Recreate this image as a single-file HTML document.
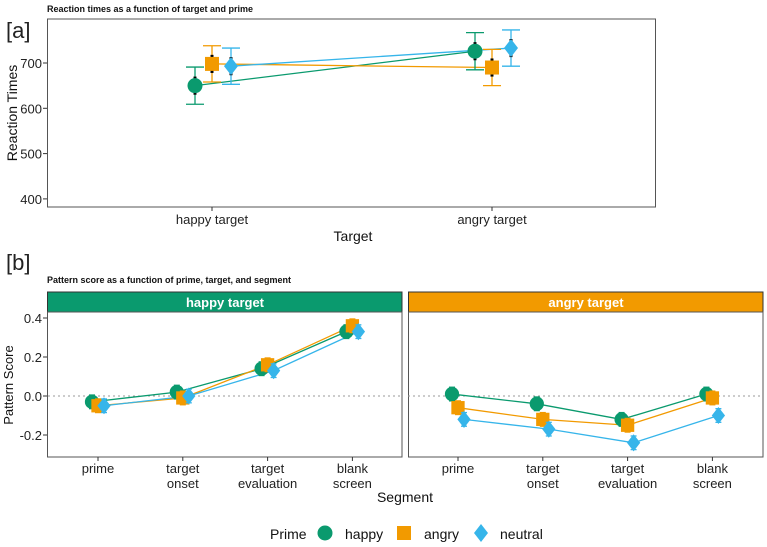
<!DOCTYPE html>
<html><head><meta charset="utf-8"><style>
body{margin:0;background:#fff;font-family:"Liberation Sans",sans-serif;}
svg text{font-family:"Liberation Sans",sans-serif;}
</style></head><body>
<svg id="s" width="767" height="542" xmlns="http://www.w3.org/2000/svg">
<text x="6" y="38" font-size="22" font-weight="300" fill="#222">[a]</text>
<text x="47" y="12" font-size="9" font-weight="bold" fill="#111">Reaction times as a function of target and prime</text>
<rect x="47.5" y="19" width="608" height="188" fill="none" stroke="#555"/>
<text transform="translate(17,113) rotate(-90)" text-anchor="middle" font-size="14" fill="#111">Reaction Times</text>
<text x="353" y="241" text-anchor="middle" font-size="14" fill="#111">Target</text>
<g id="ga"></g>
<text x="6" y="270" font-size="22" font-weight="300" fill="#222">[b]</text>
<text x="47" y="283" font-size="9" font-weight="bold" fill="#111">Pattern score as a function of prime, target, and segment</text>
<rect x="47.5" y="292" width="354.5" height="20" fill="#0A9A6E" stroke="#333"/>
<text x="225" y="307" text-anchor="middle" font-size="13" font-weight="bold" fill="#fff">happy target</text>
<rect x="408.5" y="292" width="354.5" height="20" fill="#F29A00" stroke="#333"/>
<text x="586" y="307" text-anchor="middle" font-size="13" font-weight="bold" fill="#fff">angry target</text>
<rect x="47.5" y="312" width="354.5" height="145" fill="none" stroke="#555"/>
<rect x="408.5" y="312" width="354.5" height="145" fill="none" stroke="#555"/>
<text transform="translate(13,385) rotate(-90)" text-anchor="middle" font-size="13" fill="#111">Pattern Score</text>
<text x="405" y="502" text-anchor="middle" font-size="14" fill="#111">Segment</text>
<g id="gb"></g>
<g>
<text x="270" y="539" font-size="14" fill="#111">Prime</text>
<circle cx="325" cy="533" r="7.5" fill="#0A9A6E"/>
<text x="345" y="539" font-size="14" fill="#111">happy</text>
<rect x="397" y="526" width="14" height="14" fill="#F29A00"/>
<text x="424" y="539" font-size="14" fill="#111">angry</text>
<path d="M481 524 L488 533 L481 542 L474 533Z" fill="#36B5EA"/>
<text x="500" y="539" font-size="14" fill="#111">neutral</text>
</g>
</svg>
<script>
// Panel a data
const targets = ["happy target","angry target"];
const primes = ["happy","angry","neutral"];
const rtHappy = [650, 726];
const rtAngry = [698, 690];
const rtNeutral = [693, 733];
const rtErr = [41, 40, 40];
const rtTicks = [400, 500, 600, 700];
// Panel b data
const segments = ["prime","target onset","target evaluation","blank screen"];
const segLabels = [["prime"],["target","onset"],["target","evaluation"],["blank","screen"]];
const psHappyTarget_happy = [-0.03, 0.02, 0.14, 0.33];
const psHappyTarget_angry = [-0.05, -0.01, 0.16, 0.36];
const psHappyTarget_neutral = [-0.05, 0.00, 0.13, 0.33];
const psAngryTarget_happy = [0.01, -0.04, -0.12, 0.01];
const psAngryTarget_angry = [-0.06, -0.12, -0.15, -0.01];
const psAngryTarget_neutral = [-0.12, -0.17, -0.24, -0.10];
const psErr = 0.035;
const psTicks = [-0.2, 0.0, 0.2, 0.4];
const psTickLabels = ["-0.2","0.0","0.2","0.4"];

const NS="http://www.w3.org/2000/svg";
const colors=["#0A9A6E","#F29A00","#36B5EA"];
function mk(p,tag,at){const e=document.createElementNS(NS,tag);for(const k in at)e.setAttribute(k,at[k]);p.appendChild(e);return e;}
function marker(g,i,x,y,s){
  let e;
  if(i===0) e=mk(g,"circle",{cx:x,cy:y,r:7.5*s,fill:colors[0]});
  else if(i===1) e=mk(g,"rect",{x:x-7*s,y:y-7*s,width:14*s,height:14*s,fill:colors[1]});
  else e=mk(g,"path",{d:`M${x} ${y-9*s} L${x+7*s} ${y} L${x} ${y+9*s} L${x-7*s} ${y}Z`,fill:colors[2]});
  
  
}
// Panel a
const ga=document.getElementById("ga");
const ya=v=>63-(v-700)*0.453;
const xa=i=>212+i*280;
rtTicks.forEach(t=>{
  const tk=mk(ga,"line",{x1:43,x2:47,y1:ya(t),y2:ya(t),stroke:"#333"});
  
  
  const l=mk(ga,"text",{x:42,y:ya(t)+5,"text-anchor":"end","font-size":13,fill:"#222"});
  l.textContent=t;
  
  
});
targets.forEach((t,i)=>{
  mk(ga,"line",{x1:xa(i),x2:xa(i),y1:207,y2:211,stroke:"#333"});
  const l=mk(ga,"text",{x:xa(i),y:224,"text-anchor":"middle","font-size":13,fill:"#222"});
  l.textContent=t;
  
  
});
const rtSeries=[rtHappy,rtAngry,rtNeutral];
const offA=[-17,0,19];
rtSeries.forEach((s,k)=>{
  const pts=s.map((v,i)=>[xa(i)+offA[k],ya(v)]);
  const ln=mk(ga,"polyline",{points:pts.map(p=>p.join(",")).join(" "),fill:"none",stroke:colors[k],"stroke-width":1.3});
  
  
});
rtSeries.forEach((s,k)=>{
  s.forEach((v,i)=>{
    const x=xa(i)+offA[k];
    const g=mk(ga,"g",{});
    
    
    const y1=ya(v+rtErr[k]),y2=ya(v-rtErr[k]);
    mk(g,"line",{x1:x,x2:x,y1:y1,y2:y2,stroke:colors[k],"stroke-width":1.3});
    mk(g,"line",{x1:x-9,x2:x+9,y1:y1,y2:y1,stroke:colors[k],"stroke-width":1.3});
    mk(g,"line",{x1:x-9,x2:x+9,y1:y2,y2:y2,stroke:colors[k],"stroke-width":1.3});
    mk(g,"line",{x1:x,x2:x,y1:ya(v+20),y2:ya(v-20),stroke:"#000","stroke-width":3});
    marker(g,k,x,ya(v),1);
  });
});
// Panel b
const gb=document.getElementById("gb");
const yb=v=>396-v*195;
const facets=[{x0:98,data:[psHappyTarget_happy,psHappyTarget_angry,psHappyTarget_neutral],n:"happy-target"},
              {x0:458,data:[psAngryTarget_happy,psAngryTarget_angry,psAngryTarget_neutral],n:"angry-target"}];
const offB=[-6,0,6];
psTicks.forEach((t,i)=>{
  mk(gb,"line",{x1:43,x2:47,y1:yb(t),y2:yb(t),stroke:"#333"});
  const l=mk(gb,"text",{x:42,y:yb(t)+5,"text-anchor":"end","font-size":13,fill:"#222"});
  l.textContent=psTickLabels[i];
  
  
});
facets.forEach(f=>{
  const xb=i=>f.x0+i*84.8;
  const z=mk(gb,"line",{x1:f.x0-50,x2:f.x0+304,y1:yb(0),y2:yb(0),stroke:"#999","stroke-dasharray":"2,3","stroke-width":1});
  
  
  segLabels.forEach((lab,i)=>{
    mk(gb,"line",{x1:xb(i),x2:xb(i),y1:457,y2:461,stroke:"#333"});
    lab.forEach((w,j)=>{
      const l=mk(gb,"text",{x:xb(i),y:473+j*15,"text-anchor":"middle","font-size":13,fill:"#222"});
      l.textContent=w;
      
      
    });
  });
  f.data.forEach((s,k)=>{
    const pts=s.map((v,i)=>[xb(i)+offB[k],yb(v)]);
    const ln=mk(gb,"polyline",{points:pts.map(p=>p.join(",")).join(" "),fill:"none",stroke:colors[k],"stroke-width":1.3});
    
    
  });
  f.data.forEach((s,k)=>{
    s.forEach((v,i)=>{
      const x=xb(i)+offB[k];
      const g=mk(gb,"g",{});
      
      
      const y1=yb(v+psErr),y2=yb(v-psErr);
      mk(g,"line",{x1:x,x2:x,y1:y1,y2:y2,stroke:colors[k],"stroke-width":1.3});
      mk(g,"line",{x1:x-3,x2:x+3,y1:y1,y2:y1,stroke:colors[k],"stroke-width":1.3});
      mk(g,"line",{x1:x-3,x2:x+3,y1:y2,y2:y2,stroke:colors[k],"stroke-width":1.3});
      marker(g,k,x,yb(v),0.95);
    });
  });
});
</script>
</body></html>
